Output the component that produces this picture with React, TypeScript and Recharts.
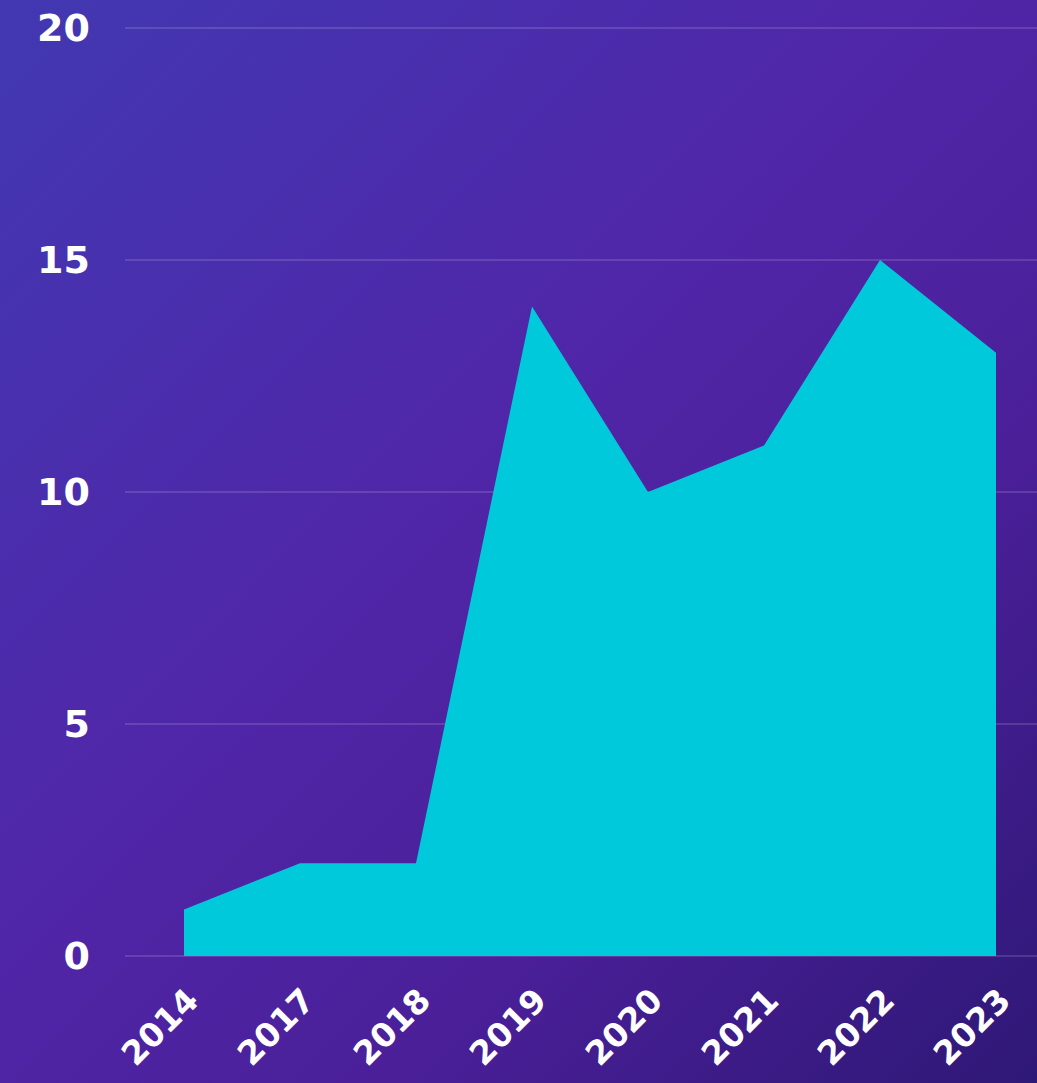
import { Area, AreaChart, CartesianGrid, XAxis, YAxis } from "recharts";

const years = ["2014", "2017", "2018", "2019", "2020", "2021", "2022", "2023"];
const counts = [1, 2, 2, 14, 10, 11, 15, 13];
const yTicks = [0, 5, 10, 15, 20];

const data = years.map((year, i) => ({ year, count: counts[i] }));

const yFont = {
  fill: "#ffffff",
  fontSize: 38,
  fontWeight: 700,
  fontFamily: "'DejaVu Sans', sans-serif",
};

const xFont = { ...yFont, fontSize: 33 };

export default function App() {
  return (
    <div
      style={{
        position: "absolute",
        top: 0,
        left: 0,
        width: 1037,
        height: 1083,
        overflow: "hidden",
        background:
          "linear-gradient(135deg, #4238b2 0%, #5026a8 45%, #4a1f98 70%, #2e1876 100%)",
      }}
    >
      <AreaChart
        width={1037}
        height={1083}
        data={data}
        margin={{ top: 28, right: 0, bottom: 0, left: 0 }}
      >
        <CartesianGrid
          vertical={false}
          stroke="rgba(255,255,255,0.18)"
          strokeWidth={1.5}
        />
        <XAxis
          dataKey="year"
          height={127}
          padding={{ left: 59, right: 41 }}
          axisLine={false}
          tickLine={false}
          tickSize={0}
          tickMargin={30}
          angle={-45}
          textAnchor="end"
          interval={0}
          tick={xFont}
        />
        <YAxis
          width={125}
          domain={[0, 20]}
          ticks={yTicks}
          axisLine={false}
          tickLine={false}
          tickSize={0}
          tickMargin={35}
          tick={yFont}
        />
        <Area
          type="linear"
          dataKey="count"
          stroke="none"
          fill="#00c9dc"
          fillOpacity={1}
          isAnimationActive={false}
        />
      </AreaChart>
    </div>
  );
}
